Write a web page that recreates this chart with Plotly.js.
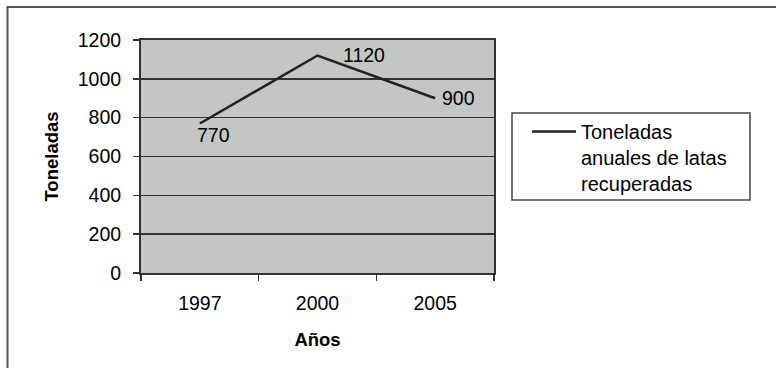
<!DOCTYPE html>
<html>
<head>
<meta charset="utf-8">
<script src="https://cdn.plot.ly/plotly-3.0.1.min.js"></script>
<style>
html,body{margin:0;padding:0;background:#fff;}
#chart{width:776px;height:368px;}
</style>
</head>
<body>
<div id="chart"></div>
<script>
// ---- data ----
const years = ['1997', '2000', '2005'];
const toneladas = [770, 1120, 900];
const seriesName = 'Toneladas<br>anuales de latas<br>recuperadas';
const yTickVals = [0, 200, 400, 600, 800, 1000, 1200];
const xTitle = 'Años';
const yTitle = 'Toneladas';

// ---- layout geometry (pixels) ----
const W = 776, H = 368;
const L = 141, R = 282, T = 40, B = 95;
const plotW = W - L - R, plotH = H - T - B;
function px(x) { return (x - L) / plotW; }
function py(y) { return (H - B - y) / plotH; }

const FAM = '"Liberation Sans", Arial, sans-serif';
const tickFont = { family: FAM, size: 19.5, color: '#000' };
const labelFont = { family: FAM, size: 19.5, color: '#000' };
const legendFont = { family: FAM, size: 20, color: '#000' };
const titleFont = { family: FAM, size: 18.5, color: '#000', weight: 'bold' };

const trace = {
  x: years,
  y: toneladas,
  type: 'scatter',
  mode: 'lines',
  name: seriesName,
  line: { color: '#222', width: 2.5 },
  showlegend: true,
  hoverinfo: 'skip'
};

// data label offsets (style)
const labelShift = [
  { xshift: -5, yshift: -12 },
  { xshift: 23, yshift: 1 },
  { xshift: 5, yshift: 0 }
];
const annotations = years.map((yr, i) => ({
  x: i, y: toneladas[i], xref: 'x', yref: 'y',
  text: String(toneladas[i]), showarrow: false,
  xanchor: 'left', yanchor: 'middle',
  xshift: labelShift[i].xshift, yshift: labelShift[i].yshift,
  font: labelFont
}));

const layout = {
  width: W, height: H,
  margin: { l: L, r: R, t: T, b: B, pad: 0 },
  paper_bgcolor: '#fff',
  plot_bgcolor: '#c4c6c6',
  font: tickFont,
  showlegend: true,
  legend: {
    x: px(527), y: py(112), xanchor: 'left', yanchor: 'top',
    borderwidth: 0, bgcolor: 'rgba(0,0,0,0)',
    font: legendFont, valign: 'top', itemwidth: 44,
    tracegroupgap: 0
  },
  xaxis: {
    type: 'category',
    range: [-0.5, 2.5],
    tickson: 'boundaries',
    ticks: 'outside', ticklen: 6, tickwidth: 1.5, tickcolor: '#333',
    showline: true, mirror: true, linecolor: '#333', linewidth: 2,
    showgrid: false, zeroline: false,
    ticklabelstandoff: 12,
    tickfont: tickFont,
    title: { text: xTitle, font: titleFont, standoff: 20 },
    automargin: true,
    fixedrange: true
  },
  yaxis: {
    range: [0, 1200],
    tickvals: yTickVals,
    ticks: 'outside', ticklen: 6, tickwidth: 1.5, tickcolor: '#333',
    showline: true, mirror: true, linecolor: '#333', linewidth: 2,
    showgrid: true, gridcolor: '#333', gridwidth: 1.5,
    zeroline: false,
    ticklabelstandoff: 8,
    tickfont: tickFont,
    title: { text: yTitle, font: titleFont, standoff: 14 },
    automargin: true,
    fixedrange: true
  },
  annotations: annotations,
  shapes: [
    { // outer chart frame
      type: 'rect', xref: 'paper', yref: 'paper', layer: 'below',
      x0: px(7.5), x1: px(W + 20), y0: py(H + 20), y1: py(7),
      line: { color: '#555', width: 2 }, fillcolor: 'rgba(0,0,0,0)'
    },
    { // legend frame
      type: 'rect', xref: 'paper', yref: 'paper', layer: 'below',
      x0: px(512), x1: px(750), y0: py(200), y1: py(113),
      line: { color: '#444', width: 1.5 }, fillcolor: '#fff'
    }
  ]
};

Plotly.newPlot('chart', [trace], layout, { displayModeBar: false, staticPlot: true });
</script>
</body>
</html>
